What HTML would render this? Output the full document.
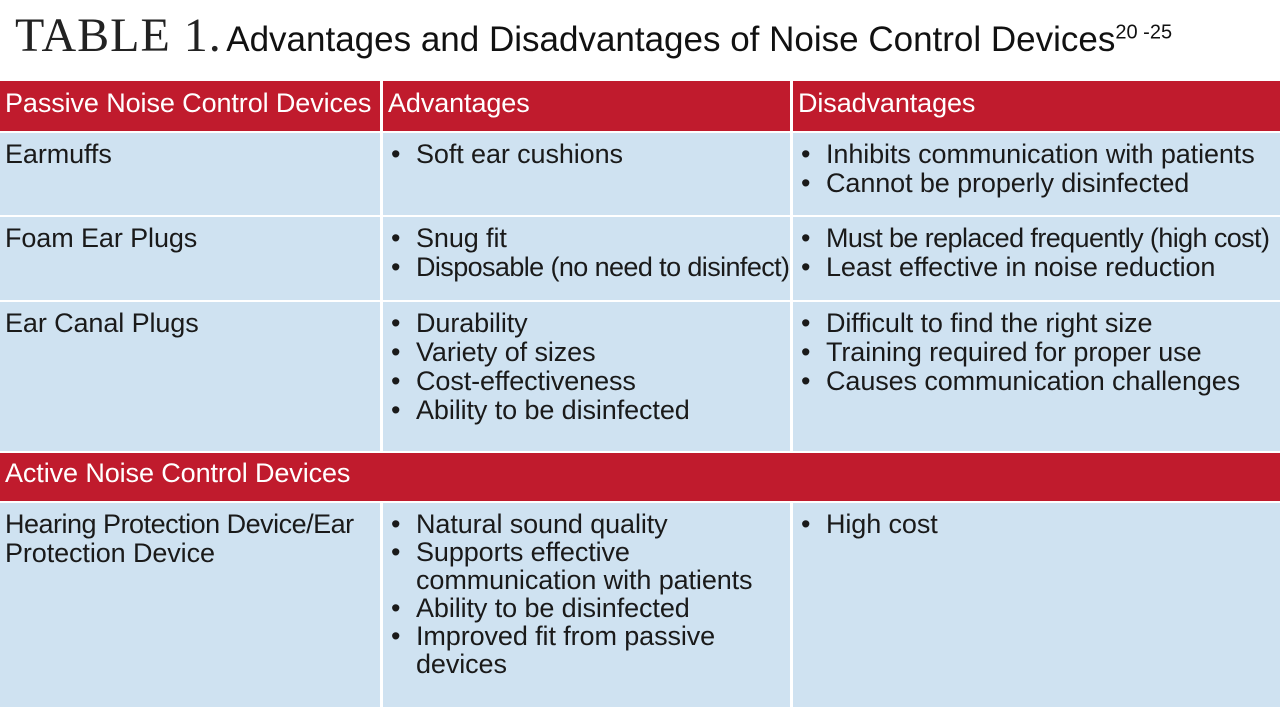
<!DOCTYPE html>
<html><head><meta charset="utf-8"><style>
body{margin:0;width:1280px;height:720px;background:#fff;position:relative;overflow:hidden;font-family:"Liberation Sans",sans-serif;}
.c{position:absolute;box-sizing:border-box;padding:7px 0 0 5px;font-size:27px;line-height:29px;color:#1a1a1a;letter-spacing:-0.1px;}
.r{background:#c01b2d;color:#fff;}
.b{background:#cfe2f1;}
ul{margin:0;padding:0;list-style:none}
li{padding-left:28px;text-indent:-28px}
li:before{content:"•";display:inline-block;width:28px;text-indent:3px}
</style></head><body>
<div style="position:absolute;left:15px;top:8px;white-space:nowrap">
<span style="font-family:'Liberation Serif',serif;font-size:48px;color:#222;letter-spacing:1px">TABLE 1.</span>
<span style="font-size:35px;color:#111">Advantages and Disadvantages of Noise Control Devices<sup style="font-size:20px">20 -25</sup></span></div>

<div class="c r" style="left:0;top:81px;width:380px;height:50px;padding-top:8px">Passive Noise Control Devices</div>
<div class="c r" style="left:383px;top:81px;width:407px;height:50px;padding-top:8px">Advantages</div>
<div class="c r" style="left:793px;top:81px;width:487px;height:50px;padding-top:8px">Disadvantages</div>

<div class="c b" style="left:0;top:133px;width:380px;height:82px">Earmuffs</div>
<div class="c b" style="left:383px;top:133px;width:407px;height:82px"><ul><li>Soft ear cushions</li></ul></div>
<div class="c b" style="left:793px;top:133px;width:487px;height:82px"><ul><li>Inhibits communication with patients</li><li>Cannot be properly disinfected</li></ul></div>

<div class="c b" style="left:0;top:217px;width:380px;height:83px">Foam Ear Plugs</div>
<div class="c b" style="left:383px;top:217px;width:407px;height:83px"><ul><li>Snug fit</li><li style="white-space:nowrap;letter-spacing:-0.6px">Disposable (no need to disinfect)</li></ul></div>
<div class="c b" style="left:793px;top:217px;width:487px;height:83px"><ul><li style="white-space:nowrap;letter-spacing:-0.6px">Must be replaced frequently (high cost)</li><li>Least effective in noise reduction</li></ul></div>

<div class="c b" style="left:0;top:302px;width:380px;height:149px">Ear Canal Plugs</div>
<div class="c b" style="left:383px;top:302px;width:407px;height:149px"><ul><li>Durability</li><li>Variety of sizes</li><li>Cost-effectiveness</li><li>Ability to be disinfected</li></ul></div>
<div class="c b" style="left:793px;top:302px;width:487px;height:149px"><ul><li>Difficult to find the right size</li><li>Training required for proper use</li><li>Causes communication challenges</li></ul></div>

<div class="c r" style="left:0;top:453px;width:1280px;height:48px;padding-top:6px">Active Noise Control Devices</div>

<div class="c b" style="left:0;top:503px;width:380px;height:204px"><span style="white-space:nowrap;letter-spacing:-0.5px">Hearing Protection Device/Ear</span><br>Protection Device</div>
<div class="c b" style="left:383px;top:503px;width:407px;height:204px;line-height:28px"><ul><li>Natural sound quality</li><li>Supports effective<br>communication with patients</li><li>Ability to be disinfected</li><li>Improved fit from passive<br>devices</li></ul></div>
<div class="c b" style="left:793px;top:503px;width:487px;height:204px"><ul><li>High cost</li></ul></div>
</body></html>
